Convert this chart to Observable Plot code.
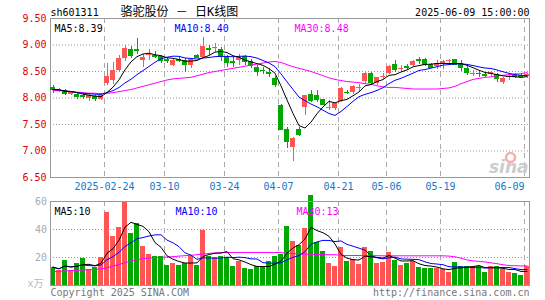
<!DOCTYPE html>
<html><head><meta charset="utf-8">
<script src="https://cdn.jsdelivr.net/npm/d3@7"></script>
<script src="https://cdn.jsdelivr.net/npm/@observablehq/plot@0.6"></script>
<style>
html,body{margin:0;padding:0;background:#fff;}
#wrap{position:relative;width:545px;height:300px;overflow:hidden;background:#fff;}
#wrap svg{position:absolute;left:0;}
</style></head><body><div id="wrap"></div>
<script>
// ---- data (trading day index 0..79, 2025-02-11 .. 2025-06-09) ----
const opens  = [8.20,8.12,8.14,8.07,8.07,8.04,7.99,8.02,7.98,8.28,
                8.33,8.51,8.74,8.92,8.92,8.70,8.80,8.81,8.79,8.72,
                8.62,8.72,8.70,8.62,8.80,8.76,8.93,8.93,8.91,8.77,
                8.68,8.70,8.78,8.69,8.58,8.52,8.49,8.37,7.86,7.41,
                7.07,7.40,7.82,8.06,8.04,7.97,7.81,7.81,7.94,8.11,
                8.11,8.18,8.31,8.47,8.28,8.39,8.47,8.63,8.54,8.59,
                8.62,8.72,8.72,8.64,8.59,8.64,8.68,8.72,8.65,8.56,
                8.46,8.47,8.44,8.44,8.45,8.29,8.38,8.42,8.42,8.40];
const highs  = [8.24,8.17,8.16,8.12,8.09,8.09,8.07,8.04,8.09,8.65,
                8.67,8.80,9.00,8.97,9.13,8.82,8.92,8.87,8.81,8.75,
                8.73,8.77,8.74,8.74,8.82,9.14,8.99,9.02,8.96,8.80,
                8.77,8.83,8.81,8.72,8.61,8.57,8.55,8.41,7.87,7.45,
                7.26,7.45,8.04,8.15,8.15,7.98,7.95,7.92,8.19,8.15,
                8.23,8.26,8.48,8.48,8.39,8.47,8.61,8.70,8.61,8.64,
                8.70,8.77,8.74,8.65,8.70,8.70,8.72,8.73,8.70,8.59,
                8.52,8.52,8.48,8.50,8.47,8.39,8.45,8.47,8.47,8.47];
const lows   = [8.08,8.10,8.04,8.05,7.97,7.98,7.94,7.93,7.96,8.24,
                8.26,8.49,8.68,8.74,8.83,8.58,8.70,8.74,8.65,8.65,
                8.60,8.67,8.48,8.55,8.74,8.74,8.80,8.86,8.69,8.57,
                8.58,8.61,8.61,8.55,8.41,8.44,8.38,8.20,7.40,7.05,
                6.80,7.27,7.67,7.92,7.92,7.86,7.76,7.76,7.92,8.06,
                8.06,8.11,8.26,8.26,8.23,8.34,8.45,8.48,8.48,8.53,
                8.59,8.64,8.59,8.55,8.53,8.53,8.65,8.62,8.50,8.42,
                8.40,8.39,8.38,8.40,8.30,8.25,8.33,8.36,8.38,8.36];
const closes = [8.16,8.15,8.08,8.10,8.02,8.02,8.04,8.00,8.05,8.41,
                8.52,8.74,8.94,8.80,8.90,8.77,8.82,8.79,8.71,8.71,
                8.71,8.71,8.63,8.72,8.77,8.97,8.92,8.95,8.78,8.67,
                8.67,8.77,8.69,8.61,8.50,8.51,8.46,8.26,7.41,7.18,
                7.23,7.31,8.04,7.96,7.98,7.87,7.83,7.90,8.17,8.10,
                8.21,8.19,8.47,8.30,8.38,8.40,8.59,8.53,8.55,8.58,
                8.69,8.71,8.64,8.57,8.65,8.69,8.70,8.64,8.57,8.48,
                8.47,8.46,8.43,8.48,8.36,8.36,8.40,8.41,8.41,8.44];
const volumes = [13.1,10.7,18.1,11.0,16.0,19.0,11.5,13.1,19.8,51.9,
                 35.2,41.7,59.8,37.1,44.5,28.1,22.4,21.0,20.5,14.0,
                 16.0,14.0,15.7,20.5,14.5,39.0,21.0,20.2,21.0,20.2,
                 13.3,16.9,12.4,11.7,13.8,12.9,16.9,21.0,22.4,41.9,
                 31.7,28.8,41.0,64.0,30.7,24.0,16.0,13.3,26.9,17.4,
                 18.6,14.8,27.4,24.0,15.5,16.2,23.8,18.1,14.0,15.5,
                 17.4,12.6,11.9,11.9,11.9,11.4,9.5,16.7,13.8,13.8,
                 13.8,13.3,9.0,13.6,13.6,11.7,9.5,8.6,6.9,13.6];
// 30-day averages (they need history before the window)
const priceMA30 = [8.14,8.14,8.13,8.12,8.11,8.10,8.09,8.09,8.08,
                   8.09,8.10,8.12,8.14,8.16,8.19,8.22,8.25,8.28,8.31,8.34,
                   8.36,8.37,8.38,8.39,8.42,8.45,8.48,8.50,8.52,8.54,
                   8.56,8.58,8.60,8.62,8.64,8.66,8.68,8.69,8.67,8.63,
                   8.59,8.56,8.53,8.50,8.46,8.42,8.38,8.35,8.33,8.31,
                   8.30,8.29,8.27,8.26,8.23,8.21,8.20,8.20,8.19,8.18,
                   8.17,8.17,8.17,8.17,8.17,8.18,8.19,8.22,8.27,8.31,
                   8.35,8.37,8.39,8.40,8.42,8.43,8.44,8.45,8.46,8.48];
const volMA30 = [10.0,10.2,10.4,10.6,10.8,11.0,11.2,11.5,11.9,12.6,
                 13.8,15.0,16.3,17.5,18.5,19.2,19.6,19.9,20.1,20.3,
                 20.6,21.0,21.3,21.6,22.0,22.4,22.9,23.3,23.5,23.6,
                 23.6,23.6,23.6,23.6,23.6,23.6,23.6,23.6,23.5,23.0,
                 22.8,22.6,22.4,22.3,22.1,22.1,22.0,22.0,21.6,21.4,
                 21.4,21.4,21.3,21.3,21.3,21.2,21.2,21.2,21.2,21.2,
                 21.2,21.2,21.2,21.2,21.2,21.2,21.0,20.5,19.5,18.3,
                 17.6,17.2,16.8,16.2,15.6,14.8,14.3,14.1,14.0,14.0];
const tickIndex  = [9,19,29,38,48,56,65,79];
const tickLabels = ["2025-02-24","03-10","03-24","04-07","04-21","05-06","05-19","06-09"];
const priceTicks = [6.5,7.0,7.5,8.0,8.5,9.0,9.5];
const priceGrid  = [7.0,7.5,8.0,8.5,9.0];
const volTicks   = [20,40,60];
const volGrid    = [20,40];
const priceMALabels = ["MA5:8.39","MA10:8.40","MA30:8.48"];
const volMALabels   = ["MA5:10","MA10:10","MA30:13"];
const headerCode  = "sh601311";
const headerTitle = "骆驼股份 － 日K线图";
const headerTime  = "2025-06-09 15:00:00";
const volUnit = "x万";
const footerLeft  = "Copyright 2025 SINA.COM";
const footerRight = "http://finance.sina.com.cn";

// ---- styling ----
const RED = "#ff5555", GREEN = "#00a800", BLUE_TXT = "#1478c8";
const maColors = ["#000000", "#0000ff", "#ff00ff"];
const FONT = "DejaVu Sans Mono, Noto Sans CJK SC, monospace";
const W = 545, L = 50, R = 16;
const half = 2.5 / 6;
const xDomain = [(L - 52.5) / 6, (W - R - 52.5) / 6];

const rows = closes.map((c, i) => ({
  i, open: opens[i], high: highs[i], low: lows[i], close: c,
  vol: volumes[i], ma30: priceMA30[i], vma30: volMA30[i]
}));
const col = d => d.close >= d.open ? RED : GREEN;
const ticks = tickIndex.map((t, k) => ({t, label: tickLabels[k]}));

const price = Plot.plot({
  width: W, height: 200, marginLeft: L, marginRight: R, marginTop: 18, marginBottom: 23,
  style: {background: "transparent", fontFamily: FONT, fontSize: "10px", overflow: "visible"},
  x: {domain: xDomain, axis: null},
  y: {domain: [6.5, 9.5], axis: null},
  marks: [
    Plot.ruleY(priceGrid, {stroke: "#999", strokeDasharray: "1,2"}),
    Plot.ruleX(ticks, {x: d => d.t - half, stroke: "#aaa", strokeDasharray: "5,4"}),
    Plot.frame({stroke: "#999"}),
    Plot.ruleX(rows, {x: "i", y1: "low", y2: "high", stroke: col, shapeRendering: "crispEdges"}),
    Plot.rect(rows, {x1: d => d.i - half, x2: d => d.i + half, y1: "open", y2: "close", fill: col, shapeRendering: "crispEdges"}),
    Plot.ruleY(rows, {x1: d => d.i - half, x2: d => d.i + half, y: "close", stroke: col, shapeRendering: "crispEdges"}),
    Plot.lineY(rows, {x: "i", y: "ma30", stroke: maColors[2], strokeWidth: 1}),
    Plot.lineY(rows, Plot.windowY({k: 10, anchor: "end"}, {x: "i", y: "close", stroke: maColors[1], strokeWidth: 1})),
    Plot.lineY(rows, Plot.windowY({k: 5, anchor: "end"}, {x: "i", y: "close", stroke: maColors[0], strokeWidth: 1})),
    Plot.text(priceTicks, {y: d => d, text: d => d.toFixed(2), frameAnchor: "left", textAnchor: "end", dx: -4, fill: "#e00000"}),
    Plot.text(ticks.slice(0, -1), {x: d => d.t - half, text: "label", frameAnchor: "bottom", lineAnchor: "bottom", dy: 12, fill: BLUE_TXT}),
    Plot.text(ticks.slice(-1), {x: d => d.t - half, text: "label", frameAnchor: "bottom", lineAnchor: "bottom", textAnchor: "end", dy: 12, fill: BLUE_TXT}),
    ...priceMALabels.map((t, k) => Plot.text([t], {frameAnchor: "top-left", textAnchor: "start", dx: 4 + 120 * k, dy: 6,
        fill: maColors[k], stroke: "white", strokeWidth: 4, paintOrder: "stroke"})),
    Plot.text([headerCode], {frameAnchor: "top-left", textAnchor: "start", lineAnchor: "bottom", dy: -2.5, fill: "#000"}),
    Plot.text([headerTitle], {frameAnchor: "top-left", textAnchor: "start", lineAnchor: "bottom", dx: 70, dy: -2.5, fill: "#000", fontSize: 12}),
    Plot.text([headerTime], {frameAnchor: "top-right", textAnchor: "end", lineAnchor: "bottom", dy: -2.5, fill: "#000"}),
    Plot.dot([0], {frameAnchor: "bottom-right", dx: -19, dy: -20, r: 4.5, stroke: "#f2b0b0", strokeWidth: 2.5, fill: "none"}),
    Plot.text(["sina"], {frameAnchor: "bottom-right", textAnchor: "end", lineAnchor: "bottom", dx: -1, dy: -5,
        fill: "#cccccc", fontSize: 17, fontStyle: "italic", fontWeight: "bold", fontFamily: "DejaVu Sans"})
  ]
});

const vol = Plot.plot({
  width: W, height: 112, marginLeft: L, marginRight: R, marginTop: 13, marginBottom: 15,
  style: {background: "transparent", fontFamily: FONT, fontSize: "10px", overflow: "visible"},
  x: {domain: xDomain, axis: null},
  y: {domain: [0, 60], axis: null},
  marks: [
    Plot.ruleY(volGrid, {stroke: "#999", strokeDasharray: "1,2"}),
    Plot.ruleX(ticks, {x: d => d.t - half, stroke: "#aaa", strokeDasharray: "5,4"}),
    Plot.rectY(rows, {x1: d => d.i - half, x2: d => d.i + half, y: "vol", fill: col, shapeRendering: "crispEdges"}),
    Plot.frame({stroke: "#999"}),
    Plot.lineY(rows, {x: "i", y: "vma30", stroke: maColors[2], strokeWidth: 1}),
    Plot.lineY(rows, Plot.windowY({k: 10, anchor: "end"}, {x: "i", y: "vol", stroke: maColors[1], strokeWidth: 1})),
    Plot.lineY(rows, Plot.windowY({k: 5, anchor: "end"}, {x: "i", y: "vol", stroke: maColors[0], strokeWidth: 1})),
    Plot.text(volTicks, {y: d => d, text: d => String(d), frameAnchor: "left", textAnchor: "end", dx: -3.5, fill: "#aaa"}),
    Plot.text([volUnit], {frameAnchor: "bottom-left", textAnchor: "end", dx: -7, dy: 1, fill: "#bbb"}),
    ...volMALabels.map((t, k) => Plot.text([t], {frameAnchor: "top-left", textAnchor: "start", dx: 4 + 121 * k, dy: 6, fill: maColors[k]})),
    Plot.text([footerLeft], {frameAnchor: "bottom-left", textAnchor: "start", lineAnchor: "bottom", dy: 10.5, fill: "#777"}),
    Plot.text([footerRight], {frameAnchor: "bottom-right", textAnchor: "end", lineAnchor: "bottom", dy: 10.5, fill: "#777"})
  ]
});

const wrap = document.getElementById("wrap");
price.style.top = "0px";
vol.style.top = "188px";
wrap.appendChild(price);
wrap.appendChild(vol);
</script></body></html>
